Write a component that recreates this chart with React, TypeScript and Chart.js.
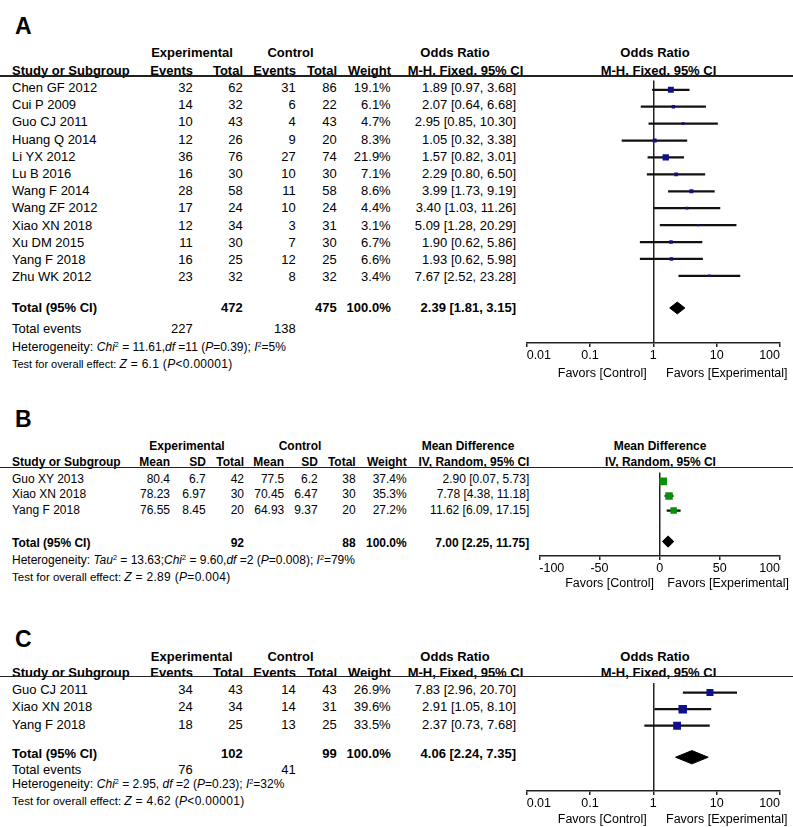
import React, { useEffect, useRef } from "react";
import { Chart, registerables } from "chart.js";

Chart.register(...registerables);

const FONT = '"Liberation Sans", Arial, Helvetica, sans-serif';
const INK = "#000";

// ---------------- Panel A data ----------------
const aStudies = ["Chen GF 2012", "Cui P 2009", "Guo CJ 2011", "Huang Q 2014", "Li YX 2012", "Lu B 2016", "Wang F 2014", "Wang ZF 2012", "Xiao XN 2018", "Xu DM 2015", "Yang F 2018", "Zhu WK 2012"];
const aExpEvents = [32, 14, 10, 12, 36, 16, 28, 17, 12, 11, 16, 23];
const aExpTotal = [62, 32, 43, 26, 76, 30, 58, 24, 34, 30, 25, 32];
const aCtrlEvents = [31, 6, 4, 9, 27, 10, 11, 10, 3, 7, 12, 8];
const aCtrlTotal = [86, 22, 43, 20, 74, 30, 58, 24, 31, 30, 25, 32];
const aWeight = [19.1, 6.1, 4.7, 8.3, 21.9, 7.1, 8.6, 4.4, 3.1, 6.7, 6.6, 3.4];
const aOR = [1.89, 2.07, 2.95, 1.05, 1.57, 2.29, 3.99, 3.4, 5.09, 1.9, 1.93, 7.67];
const aLow = [0.97, 0.64, 0.85, 0.32, 0.82, 0.8, 1.73, 1.03, 1.28, 0.62, 0.62, 2.52];
const aHigh = [3.68, 6.68, 10.3, 3.38, 3.01, 6.5, 9.19, 11.26, 20.29, 5.86, 5.98, 23.28];
const aPooled = [2.39, 1.81, 3.15];
const aTotals = [472, 475];
const aTotalEvents = [227, 138];
const aHet = { chi2: "11.61", df: 11, p: "0.39", i2: 5 };
const aTest = { z: "6.1", p: "<0.00001" };

// ---------------- Panel B data ----------------
const bStudies = ["Guo XY 2013", "Xiao XN 2018", "Yang F 2018"];
const bExpMean = [80.4, 78.23, 76.55];
const bExpSD = [6.7, 6.97, 8.45];
const bExpTotal = [42, 30, 20];
const bCtrlMean = [77.5, 70.45, 64.93];
const bCtrlSD = [6.2, 6.47, 9.37];
const bCtrlTotal = [38, 30, 20];
const bWeight = [37.4, 35.3, 27.2];
const bMD = [2.9, 7.78, 11.62];
const bLow = [0.07, 4.38, 6.09];
const bHigh = [5.73, 11.18, 17.15];
const bPooled = [7.0, 2.25, 11.75];
const bTotals = [92, 88];
const bHet = { tau2: "13.63", chi2: "9.60", df: 2, p: "0.008", i2: 79 };
const bTest = { z: "2.89", p: "=0.004" };

// ---------------- Panel C data ----------------
const cStudies = ["Guo CJ 2011", "Xiao XN 2018", "Yang F 2018"];
const cExpEvents = [34, 24, 18];
const cExpTotal = [43, 34, 25];
const cCtrlEvents = [14, 14, 13];
const cCtrlTotal = [43, 31, 25];
const cWeight = [26.9, 39.6, 33.5];
const cOR = [7.83, 2.91, 2.37];
const cLow = [2.96, 1.05, 0.73];
const cHigh = [20.7, 8.1, 7.68];
const cPooled = [4.06, 2.24, 7.35];
const cTotals = [102, 99];
const cTotalEvents = [76, 41];
const cHet = { chi2: "2.95", df: 2, p: "0.23", i2: 32 };
const cTest = { z: "4.62", p: "<0.00001" };

// ---------------- Axis ticks ----------------
const orTickValues = [0.01, 0.1, 1, 10, 100];
const orTickLabels = ["0.01", "0.1", "1", "10", "100"];
const mdTickValues = [-100, -50, 0, 50, 100];
const mdTickLabels = ["-100", "-50", "0", "50", "100"];

// ---------------- Layout ----------------
const LA = { canvasLeft: 500, plotLeft: 526.7, plotRight: 780, top: 76, axisY: 343, row0: 85.5, dy: 17.2, totalRow: 12.9, diamondHalf: 6, sizeK: 1.35 };
const LB = { canvasLeft: 505, plotLeft: 539.3, plotRight: 780, top: 467.3, axisY: 556, row0: 476.8, dy: 15.5, totalRow: 4.12, diamondHalf: 6, sizeK: 1.25 };
const LC = { canvasLeft: 500, plotLeft: 526.7, plotRight: 780, top: 676.7, axisY: 790.7, row0: 686.8, dy: 17.5, totalRow: 3.9, diamondHalf: 7, sizeK: 1.35 };

const fmtCI = (e: number, l: number, h: number) => `${e.toFixed(2)} [${l.toFixed(2)}, ${h.toFixed(2)}]`;
const pct = (w: number) => `${w.toFixed(1)}%`;

type TProps = { x: number; y: number; a?: "l" | "r" | "c"; s?: number; b?: boolean; children?: React.ReactNode };
function T({ x, y, a = "l", s = 13, b = false, children }: TProps) {
  const tx = a === "l" ? "0" : a === "r" ? "-100%" : "-50%";
  return (
    <div
      style={{
        position: "absolute",
        left: x,
        top: y,
        transform: `translate(${tx}, -50%)`,
        fontSize: s,
        fontWeight: b ? 700 : 400,
        lineHeight: 1,
        whiteSpace: "nowrap",
        fontFamily: FONT,
        color: INK,
      }}
    >
      {children}
    </div>
  );
}

const SUP: React.CSSProperties = { fontSize: "0.6em", position: "relative", top: "-0.5em" };
const HET_STATS: React.CSSProperties = { fontSize: 12 };
const TEST_STATS: React.CSSProperties = { fontSize: 12, letterSpacing: 0.3 };

function Rule({ y }: { y: number }) {
  return <div style={{ position: "absolute", left: 0, top: y - 0.75, width: 793, height: 1.5, background: "#222" }} />;
}

type ForestParams = {
  L: typeof LA;
  xType: "logarithmic" | "linear";
  min: number;
  max: number;
  tickValues: number[];
  tickLabels: string[];
  nullValue: number;
  est: number[];
  low: number[];
  high: number[];
  weight: number[];
  pooled: number[];
  color: string;
};

function buildConfig(p: ForestParams): any {
  const L = p.L;
  const radii = p.weight.map((w) => (L.sizeK * Math.sqrt(w)) / Math.SQRT2);
  const half = L.diamondHalf / L.dy;
  const t = L.totalRow;
  const yMin = (L.top - L.row0) / L.dy;
  const yMax = (L.axisY - L.row0) / L.dy;
  return {
    type: "scatter",
    data: {
      datasets: [
        {
          type: "scatter",
          data: p.est.map((v, i) => ({ x: v, y: i })),
          pointStyle: "rect",
          pointRadius: radii,
          pointHoverRadius: radii,
          backgroundColor: p.color,
          borderColor: p.color,
          pointBorderWidth: 0,
          borderWidth: 0,
          order: 0,
        },
        {
          type: "bar",
          indexAxis: "y",
          data: p.low.map((l, i) => ({ x: [l, p.high[i]], y: i })),
          backgroundColor: "#111",
          borderWidth: 0,
          barThickness: 1.6,
          order: 1,
        },
        {
          type: "line",
          data: [
            { x: p.pooled[1], y: t },
            { x: p.pooled[0], y: t - half },
            { x: p.pooled[2], y: t },
            { x: p.pooled[0], y: t + half },
            { x: p.pooled[1], y: t },
          ],
          borderColor: "#000",
          backgroundColor: "#000",
          borderWidth: 1,
          pointRadius: 0,
          showLine: true,
          fill: "shape",
          tension: 0,
          order: 2,
        },
      ],
    },
    options: {
      animation: false,
      responsive: false,
      maintainAspectRatio: false,
      events: [],
      layout: { padding: { left: L.plotLeft - L.canvasLeft, right: 793 - L.plotRight, top: 0, bottom: 4 } },
      plugins: { legend: { display: false }, tooltip: { enabled: false } },
      scales: {
        x: {
          type: p.xType,
          min: p.min,
          max: p.max,
          offset: false,
          beginAtZero: false,
          position: "bottom",
          afterBuildTicks: (s: any) => {
            s.ticks = p.tickValues.map((v) => ({ value: v }));
          },
          ticks: {
            callback: (_v: any, i: number) => p.tickLabels[i],
            align: "inner",
            autoSkip: false,
            maxRotation: 0,
            minRotation: 0,
            padding: 1,
            color: INK,
            font: { family: FONT, size: 12.5 },
          },
          grid: {
            display: true,
            offset: false,
            drawOnChartArea: true,
            drawTicks: true,
            tickLength: 4,
            lineWidth: 1.5,
            tickWidth: 1.5,
            color: (c: any) => (c.tick && c.tick.value === p.nullValue ? "#222" : "rgba(0,0,0,0)"),
            tickColor: "#222",
          },
          border: { display: true, color: "#222", width: 1.5 },
        },
        y: { type: "linear", display: false, offset: false, grid: { offset: false }, min: yMin, max: yMax, reverse: true },
      },
    },
  };
}

function ForestCanvas({ p }: { p: ForestParams }) {
  const ref = useRef<HTMLCanvasElement>(null);
  const L = p.L;
  const width = 793 - L.canvasLeft;
  const height = Math.round(L.axisY - L.top + 21 + 4);
  useEffect(() => {
    const chart = new Chart(ref.current as HTMLCanvasElement, buildConfig(p));
    return () => chart.destroy();
  }, []);
  return (
    <canvas
      ref={ref}
      width={width}
      height={height}
      style={{ position: "absolute", left: L.canvasLeft, top: L.top, width, height }}
    />
  );
}

function Favors({ y, zeroX, rightGap, leftGap }: { y: number; zeroX: number; rightGap: number; leftGap: number }) {
  return (
    <>
      <T x={zeroX - rightGap} y={y} a="r" s={12.5}>Favors [Control]</T>
      <T x={zeroX + leftGap} y={y} a="l" s={12.5}>Favors [Experimental]</T>
    </>
  );
}

export default function App() {
  const aRowY = (i: number) => LA.row0 + 1.5 + i * LA.dy;
  const bRowY = (i: number) => LB.row0 + 2 + i * LB.dy;
  const cRowY = (i: number) => LC.row0 + 2 + i * LC.dy;

  return (
    <div style={{ position: "absolute", left: 0, top: 0, width: 793, height: 827, background: "#fff", overflow: "hidden" }}>
      {/* ================= Panel A ================= */}
      <T x={15} y={26} s={23} b>A</T>
      <T x={192} y={52} a="c" b>Experimental</T>
      <T x={290.5} y={52} a="c" b>Control</T>
      <T x={455} y={52} a="c" b>Odds Ratio</T>
      <T x={655} y={52} a="c" b>Odds Ratio</T>
      <T x={12} y={70} b>Study or Subgroup</T>
      <T x={193} y={70} a="r" b>Events</T>
      <T x={243} y={70} a="r" b>Total</T>
      <T x={296} y={70} a="r" b>Events</T>
      <T x={337} y={70} a="r" b>Total</T>
      <T x={391} y={70} a="r" b>Weight</T>
      <T x={465.5} y={70} a="c" b>M-H, Fixed, 95% CI</T>
      <T x={658.5} y={70} a="c" b>M-H, Fixed, 95% CI</T>
      <Rule y={LA.top} />
      {aStudies.map((name, i) => (
        <React.Fragment key={"a" + i}>
          <T x={12} y={aRowY(i)}>{name}</T>
          <T x={192.7} y={aRowY(i)} a="r">{aExpEvents[i]}</T>
          <T x={242.7} y={aRowY(i)} a="r">{aExpTotal[i]}</T>
          <T x={295.7} y={aRowY(i)} a="r">{aCtrlEvents[i]}</T>
          <T x={336.7} y={aRowY(i)} a="r">{aCtrlTotal[i]}</T>
          <T x={390.7} y={aRowY(i)} a="r">{pct(aWeight[i])}</T>
          <T x={516} y={aRowY(i)} a="r">{fmtCI(aOR[i], aLow[i], aHigh[i])}</T>
        </React.Fragment>
      ))}
      <T x={12} y={307} b>Total (95% CI)</T>
      <T x={242.7} y={307} a="r" b>{aTotals[0]}</T>
      <T x={336.7} y={307} a="r" b>{aTotals[1]}</T>
      <T x={390.7} y={307} a="r" b>100.0%</T>
      <T x={516} y={307} a="r" b>{fmtCI(aPooled[0], aPooled[1], aPooled[2])}</T>
      <T x={12} y={328}>Total events</T>
      <T x={192.7} y={328} a="r">{aTotalEvents[0]}</T>
      <T x={295.7} y={328} a="r">{aTotalEvents[1]}</T>
      <T x={12} y={346.5} s={12.5}>
        Heterogeneity:{" "}
        <span style={HET_STATS}>
          <i>Chi</i><span style={SUP}>2</span> = {aHet.chi2},<i>df</i> ={aHet.df} (<i>P</i>={aHet.p}); <i>I</i><span style={SUP}>2</span>={aHet.i2}%
        </span>
      </T>
      <T x={12} y={363.5} s={11}>
        Test for overall effect:{" "}
        <span style={TEST_STATS}>
          <i>Z</i> = {aTest.z} (<i>P</i>{aTest.p})
        </span>
      </T>
      <ForestCanvas
        p={{ L: LA, xType: "logarithmic", min: 0.01, max: 100, tickValues: orTickValues, tickLabels: orTickLabels, nullValue: 1, est: aOR, low: aLow, high: aHigh, weight: aWeight, pooled: aPooled, color: "#10108c" }}
      />
      <Favors y={372.7} zeroX={653.3} rightGap={6.6} leftGap={12.7} />

      {/* ================= Panel B ================= */}
      <T x={15} y={419} s={23} b>B</T>
      <T x={187} y={445.7} a="c" s={12} b>Experimental</T>
      <T x={300} y={445.7} a="c" s={12} b>Control</T>
      <T x={468} y={445.7} a="c" s={12} b>Mean Difference</T>
      <T x={660} y={445.7} a="c" s={12} b>Mean Difference</T>
      <T x={12} y={462} s={12} b>Study or Subgroup</T>
      <T x={170} y={462} a="r" s={12} b>Mean</T>
      <T x={206} y={462} a="r" s={12} b>SD</T>
      <T x={244} y={462} a="r" s={12} b>Total</T>
      <T x={284} y={462} a="r" s={12} b>Mean</T>
      <T x={318} y={462} a="r" s={12} b>SD</T>
      <T x={355.7} y={462} a="r" s={12} b>Total</T>
      <T x={406.7} y={462} a="r" s={12} b>Weight</T>
      <T x={474} y={462} a="c" s={12} b>IV, Random, 95% CI</T>
      <T x={660.5} y={462} a="c" s={12} b>IV, Random, 95% CI</T>
      <Rule y={LB.top} />
      {bStudies.map((name, i) => (
        <React.Fragment key={"b" + i}>
          <T x={12} y={bRowY(i)} s={12}>{name}</T>
          <T x={170} y={bRowY(i)} a="r" s={12}>{bExpMean[i]}</T>
          <T x={205.7} y={bRowY(i)} a="r" s={12}>{bExpSD[i]}</T>
          <T x={244} y={bRowY(i)} a="r" s={12}>{bExpTotal[i]}</T>
          <T x={284.3} y={bRowY(i)} a="r" s={12}>{bCtrlMean[i]}</T>
          <T x={317.7} y={bRowY(i)} a="r" s={12}>{bCtrlSD[i]}</T>
          <T x={355.7} y={bRowY(i)} a="r" s={12}>{bCtrlTotal[i]}</T>
          <T x={406.7} y={bRowY(i)} a="r" s={12}>{pct(bWeight[i])}</T>
          <T x={529.3} y={bRowY(i)} a="r" s={12}>{fmtCI(bMD[i], bLow[i], bHigh[i])}</T>
        </React.Fragment>
      ))}
      <T x={12} y={542.5} s={12} b>Total (95% CI)</T>
      <T x={244} y={542.5} a="r" s={12} b>{bTotals[0]}</T>
      <T x={355.7} y={542.5} a="r" s={12} b>{bTotals[1]}</T>
      <T x={406.7} y={542.5} a="r" s={12} b>100.0%</T>
      <T x={529.3} y={542.5} a="r" s={12} b>{fmtCI(bPooled[0], bPooled[1], bPooled[2])}</T>
      <T x={12} y={559.5} s={12}>
        Heterogeneity:{" "}
        <span style={HET_STATS}>
          <i>Tau</i><span style={SUP}>2</span> = {bHet.tau2};<i>Chi</i><span style={SUP}>2</span> = {bHet.chi2},<i>df</i> ={bHet.df} (<i>P</i>={bHet.p}); <i>I</i><span style={SUP}>2</span>={bHet.i2}%
        </span>
      </T>
      <T x={12} y={576.7} s={11.5}>
        Test for overall effect:{" "}
        <span style={TEST_STATS}>
          <i>Z</i> = {bTest.z} (<i>P</i>{bTest.p})
        </span>
      </T>
      <ForestCanvas
        p={{ L: LB, xType: "linear", min: -100, max: 100, tickValues: mdTickValues, tickLabels: mdTickLabels, nullValue: 0, est: bMD, low: bLow, high: bHigh, weight: bWeight, pooled: bPooled, color: "#0a8f0a" }}
      />
      <Favors y={583.3} zeroX={659.65} rightGap={5.6} leftGap={7.7} />

      {/* ================= Panel C ================= */}
      <T x={15} y={639.3} s={23} b>C</T>
      <T x={191.7} y={655.7} a="c" b>Experimental</T>
      <T x={290.5} y={655.7} a="c" b>Control</T>
      <T x={455} y={655.7} a="c" b>Odds Ratio</T>
      <T x={655} y={655.7} a="c" b>Odds Ratio</T>
      <T x={12} y={672.3} b>Study or Subgroup</T>
      <T x={193} y={672.3} a="r" b>Events</T>
      <T x={243} y={672.3} a="r" b>Total</T>
      <T x={296} y={672.3} a="r" b>Events</T>
      <T x={337} y={672.3} a="r" b>Total</T>
      <T x={391} y={672.3} a="r" b>Weight</T>
      <T x={465.5} y={672.3} a="c" b>M-H, Fixed, 95% CI</T>
      <T x={658.5} y={672.3} a="c" b>M-H, Fixed, 95% CI</T>
      <Rule y={LC.top} />
      {cStudies.map((name, i) => (
        <React.Fragment key={"c" + i}>
          <T x={12} y={cRowY(i)}>{name}</T>
          <T x={192.7} y={cRowY(i)} a="r">{cExpEvents[i]}</T>
          <T x={242.7} y={cRowY(i)} a="r">{cExpTotal[i]}</T>
          <T x={295.7} y={cRowY(i)} a="r">{cCtrlEvents[i]}</T>
          <T x={336.7} y={cRowY(i)} a="r">{cCtrlTotal[i]}</T>
          <T x={390.7} y={cRowY(i)} a="r">{pct(cWeight[i])}</T>
          <T x={516} y={cRowY(i)} a="r">{fmtCI(cOR[i], cLow[i], cHigh[i])}</T>
        </React.Fragment>
      ))}
      <T x={12} y={753} b>Total (95% CI)</T>
      <T x={242.7} y={753} a="r" b>{cTotals[0]}</T>
      <T x={336.7} y={753} a="r" b>{cTotals[1]}</T>
      <T x={390.7} y={753} a="r" b>100.0%</T>
      <T x={516} y={753} a="r" b>{fmtCI(cPooled[0], cPooled[1], cPooled[2])}</T>
      <T x={12} y={768.5}>Total events</T>
      <T x={192.7} y={768.5} a="r">{cTotalEvents[0]}</T>
      <T x={295.7} y={768.5} a="r">{cTotalEvents[1]}</T>
      <T x={12} y={784} s={12.5}>
        Heterogeneity:{" "}
        <span style={HET_STATS}>
          <i>Chi</i><span style={SUP}>2</span> = {cHet.chi2}, <i>df</i> ={cHet.df} (<i>P</i>={cHet.p}); <i>I</i><span style={SUP}>2</span>={cHet.i2}%
        </span>
      </T>
      <T x={12} y={800.5} s={11.5}>
        Test for overall effect:{" "}
        <span style={TEST_STATS}>
          <i>Z</i> = {cTest.z} (<i>P</i>{cTest.p})
        </span>
      </T>
      <ForestCanvas
        p={{ L: LC, xType: "logarithmic", min: 0.01, max: 100, tickValues: orTickValues, tickLabels: orTickLabels, nullValue: 1, est: cOR, low: cLow, high: cHigh, weight: cWeight, pooled: cPooled, color: "#10108c" }}
      />
      <Favors y={819.3} zeroX={653.3} rightGap={6.6} leftGap={12.7} />
    </div>
  );
}
